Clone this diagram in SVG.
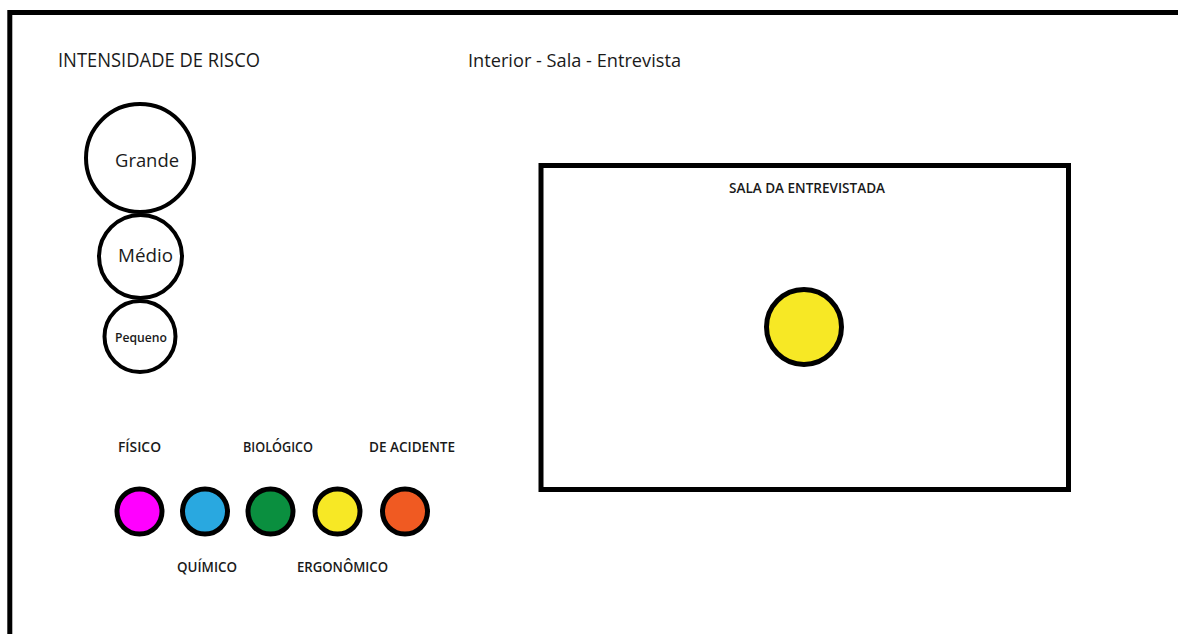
<svg xmlns="http://www.w3.org/2000/svg" width="1178" height="634" viewBox="0 0 1178 634">
<style>
.t{font-family:"Open Sans","Noto Sans","Liberation Sans",sans-serif;fill:#1a1a1a;}
.lb{font-size:14.5px;font-weight:600;}
.ring{fill:#fff;stroke:#000;stroke-width:4;}
.dot{stroke:#000;stroke-width:5;}
</style>
<rect x="0" y="0" width="1178" height="634" fill="#fff"/>
<rect id="frame" x="9.8" y="12.5" width="1300" height="800" fill="none" stroke="#000" stroke-width="5"/>
<text class="t" x="58" y="67" font-size="19.5" textLength="202" lengthAdjust="spacingAndGlyphs">INTENSIDADE DE RISCO</text>
<text class="t" x="468" y="67" font-size="19" textLength="213" lengthAdjust="spacingAndGlyphs">Interior - Sala - Entrevista</text>
<g id="grande"><circle class="ring" cx="140" cy="158" r="54"/><text class="t" x="115" y="166.7" font-size="18.5" textLength="64" lengthAdjust="spacingAndGlyphs">Grande</text></g>
<g id="medio"><circle class="ring" cx="140.5" cy="256.5" r="41.5"/><text class="t" x="118" y="261.7" font-size="18" textLength="55" lengthAdjust="spacingAndGlyphs">Médio</text></g>
<g id="pequeno"><circle class="ring" cx="140" cy="336.5" r="35.5"/><text class="t" x="115" y="341.7" font-size="12.5" font-weight="600" textLength="52" lengthAdjust="spacingAndGlyphs">Pequeno</text></g>
<g id="legend">
<text class="t lb" x="118" y="452.3" textLength="43" lengthAdjust="spacingAndGlyphs">FÍSICO</text>
<text class="t lb" x="243" y="452.3" textLength="70" lengthAdjust="spacingAndGlyphs">BIOLÓGICO</text>
<text class="t lb" x="369" y="452.3" textLength="86" lengthAdjust="spacingAndGlyphs">DE ACIDENTE</text>
<text class="t lb" x="177" y="571.5" textLength="60" lengthAdjust="spacingAndGlyphs">QUÍMICO</text>
<text class="t lb" x="297" y="571.5" textLength="91" lengthAdjust="spacingAndGlyphs">ERGONÔMICO</text>
<circle class="dot" cx="139.5" cy="511.5" r="22.5" fill="#ff00ff"/>
<circle class="dot" cx="205" cy="511.5" r="22.5" fill="#29a8e0"/>
<circle class="dot" cx="270.5" cy="511.5" r="22.5" fill="#0a8f3f"/>
<circle class="dot" cx="337.5" cy="511.5" r="22.5" fill="#f7e825"/>
<circle class="dot" cx="405" cy="511.5" r="22.5" fill="#f05a22"/>
</g>
<g id="sala">
<rect x="541" y="165.5" width="527.5" height="324" fill="none" stroke="#000" stroke-width="5"/>
<text class="t" x="729" y="193.3" font-size="15" font-weight="600" textLength="156" lengthAdjust="spacingAndGlyphs">SALA DA ENTREVISTADA</text>
</g>
<g id="risco-sala"><circle class="dot" cx="804" cy="327" r="37.5" fill="#f7e825"/></g>
<g id="connectors"></g>
</svg>
